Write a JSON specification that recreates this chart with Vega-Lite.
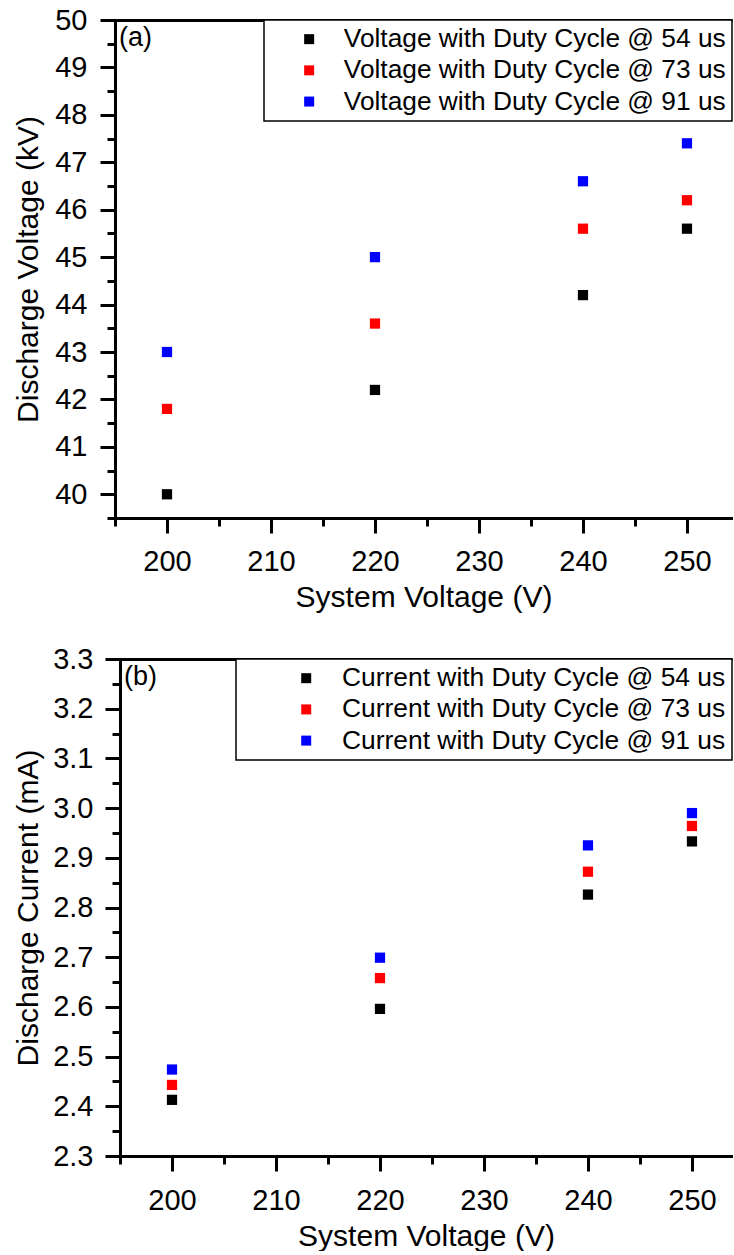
{
  "$schema": "https://vega.github.io/schema/vega-lite/v6.json",
  "padding": {"left": 13, "top": 6, "right": 0, "bottom": 0},
  "background": "white",
  "config": {
    "view": {"stroke": null},
    "font": "Liberation Sans",
    "legend": {"strokeWidth": 1.5},
    "axis": {
      "domainColor": "black", "domainWidth": 3, "domainCap": "square",
      "tickColor": "black", "tickWidth": 3, "tickCap": "butt",
      "labelColor": "black", "labelFont": "Liberation Sans", "labelFontSize": 29,
      "titleFont": "Liberation Sans", "titleFontSize": 30, "titleFontWeight": "normal", "titleColor": "black",
      "grid": false, "labelFlush": false, "labelOverlap": false, "labelBound": false
    }
  },
  "columns": 1,
  "align": "none",
  "spacing": 33,
  "resolve": {"scale": {"color": "independent"}, "legend": {"color": "independent"}},
  "concat": [
    {
      "width": 617,
      "height": 498,
      "data": {"values": [
        {"sys": 200, "value": 40.0, "series": "Voltage with Duty Cycle @ 54 us"},
        {"sys": 220, "value": 42.2, "series": "Voltage with Duty Cycle @ 54 us"},
        {"sys": 240, "value": 44.2, "series": "Voltage with Duty Cycle @ 54 us"},
        {"sys": 250, "value": 45.6, "series": "Voltage with Duty Cycle @ 54 us"},
        {"sys": 200, "value": 41.8, "series": "Voltage with Duty Cycle @ 73 us"},
        {"sys": 220, "value": 43.6, "series": "Voltage with Duty Cycle @ 73 us"},
        {"sys": 240, "value": 45.6, "series": "Voltage with Duty Cycle @ 73 us"},
        {"sys": 250, "value": 46.2, "series": "Voltage with Duty Cycle @ 73 us"},
        {"sys": 200, "value": 43.0, "series": "Voltage with Duty Cycle @ 91 us"},
        {"sys": 220, "value": 45.0, "series": "Voltage with Duty Cycle @ 91 us"},
        {"sys": 240, "value": 46.6, "series": "Voltage with Duty Cycle @ 91 us"},
        {"sys": 250, "value": 47.4, "series": "Voltage with Duty Cycle @ 91 us"}
      ]},
      "layer": [
        {
          "mark": {"type": "point", "opacity": 0},
          "encoding": {
            "x": {"field": "sys", "type": "quantitative", "scale": {"domain": [195, 254.33], "nice": false, "zero": false},
                  "axis": {"orient": "bottom", "values": [195, 205, 215, 225, 235, 245], "tickSize": 8, "labels": false, "domain": false, "title": null}},
            "y": {"field": "value", "type": "quantitative", "scale": {"domain": [39.5, 50], "nice": false, "zero": false},
                  "axis": {"orient": "left", "values": [39.5, 40.5, 41.5, 42.5, 43.5, 44.5, 45.5, 46.5, 47.5, 48.5, 49.5], "tickSize": 8, "labels": false, "domain": false, "title": null}}
          }
        },
        {
          "mark": {"type": "point", "opacity": 0},
          "encoding": {
            "x": {"field": "sys", "type": "quantitative",
                  "axis": {"orient": "top", "ticks": false, "labels": false, "title": null, "domainCap": "butt"}},
            "y": {"field": "value", "type": "quantitative", "axis": null}
          }
        },
        {
          "mark": {"type": "point", "shape": "square", "filled": true, "size": 105, "opacity": 1},
          "encoding": {
            "x": {"field": "sys", "type": "quantitative",
                  "axis": {"orient": "bottom", "values": [200, 210, 220, 230, 240, 250], "format": "d", "tickSize": 15, "labelPadding": 14, "titlePadding": 6, "title": "System Voltage (V)"}},
            "y": {"field": "value", "type": "quantitative",
                  "axis": {"orient": "left", "values": [40, 41, 42, 43, 44, 45, 46, 47, 48, 49, 50], "format": "d", "tickSize": 15, "labelPadding": 13, "titlePadding": 11, "title": "Discharge Voltage (kV)"}},
            "color": {"field": "series", "type": "nominal",
              "scale": {"domain": ["Voltage with Duty Cycle @ 54 us", "Voltage with Duty Cycle @ 73 us", "Voltage with Duty Cycle @ 91 us"], "range": ["#000000", "#ff0000", "#0000ff"]},
              "legend": {"title": " ", "titleOrient": "left", "titleFontSize": 1, "titlePadding": 26,
                "orient": "top-right", "offset": 0, "padding": 6, "strokeColor": "black", "fillColor": "white",
                "labelFont": "Liberation Sans", "labelFontSize": 26.3, "labelColor": "black", "labelOffset": 21.5, "labelLimit": 1000,
                "symbolType": "square", "symbolSize": 100, "symbolStrokeWidth": 0, "rowPadding": 4.2}}
          }
        },
        {
          "data": {"values": [{"label": "(a)"}]},
          "mark": {"type": "text", "align": "left", "baseline": "top", "dx": 4, "dy": 5, "fontSize": 27, "font": "Liberation Sans", "color": "black"},
          "encoding": {
            "x": {"datum": 195, "type": "quantitative", "axis": null},
            "y": {"datum": 50, "type": "quantitative", "axis": null},
            "text": {"field": "label"}
          }
        }
      ],
      "resolve": {"axis": {"x": "independent", "y": "independent"}}
    },
    {
      "width": 617,
      "height": 497,
      "data": {"values": [
        {"sys": 200, "value": 2.413, "series": "Current with Duty Cycle @ 54 us"},
        {"sys": 220, "value": 2.596, "series": "Current with Duty Cycle @ 54 us"},
        {"sys": 240, "value": 2.826, "series": "Current with Duty Cycle @ 54 us"},
        {"sys": 250, "value": 2.933, "series": "Current with Duty Cycle @ 54 us"},
        {"sys": 200, "value": 2.443, "series": "Current with Duty Cycle @ 73 us"},
        {"sys": 220, "value": 2.658, "series": "Current with Duty Cycle @ 73 us"},
        {"sys": 240, "value": 2.872, "series": "Current with Duty Cycle @ 73 us"},
        {"sys": 250, "value": 2.964, "series": "Current with Duty Cycle @ 73 us"},
        {"sys": 200, "value": 2.474, "series": "Current with Duty Cycle @ 91 us"},
        {"sys": 220, "value": 2.699, "series": "Current with Duty Cycle @ 91 us"},
        {"sys": 240, "value": 2.925, "series": "Current with Duty Cycle @ 91 us"},
        {"sys": 250, "value": 2.990, "series": "Current with Duty Cycle @ 91 us"}
      ]},
      "layer": [
        {
          "mark": {"type": "point", "opacity": 0},
          "encoding": {
            "x": {"field": "sys", "type": "quantitative", "scale": {"domain": [195, 253.85], "range": [5, 617], "nice": false, "zero": false},
                  "axis": {"orient": "bottom", "values": [195, 205, 215, 225, 235, 245], "tickSize": 8, "labels": false, "domain": false, "title": null}},
            "y": {"field": "value", "type": "quantitative", "scale": {"domain": [2.3, 3.3], "nice": false, "zero": false},
                  "axis": {"orient": "left", "offset": -5, "values": [2.35, 2.45, 2.55, 2.65, 2.75, 2.85, 2.95, 3.05, 3.15, 3.25], "tickSize": 8, "labels": false, "domain": false, "title": null}}
          }
        },
        {
          "mark": {"type": "point", "opacity": 0},
          "encoding": {
            "x": {"field": "sys", "type": "quantitative",
                  "axis": {"orient": "top", "ticks": false, "labels": false, "title": null, "domainCap": "butt"}},
            "y": {"field": "value", "type": "quantitative", "axis": null}
          }
        },
        {
          "mark": {"type": "point", "shape": "square", "filled": true, "size": 105, "opacity": 1},
          "encoding": {
            "x": {"field": "sys", "type": "quantitative",
                  "axis": {"orient": "bottom", "values": [200, 210, 220, 230, 240, 250], "format": "d", "tickSize": 15, "labelPadding": 15, "titlePadding": 6, "title": "System Voltage (V)"}},
            "y": {"field": "value", "type": "quantitative",
                  "axis": {"orient": "left", "offset": -5, "values": [2.3, 2.4, 2.5, 2.6, 2.7, 2.8, 2.9, 3.0, 3.1, 3.2, 3.3], "format": ".1f", "tickSize": 15, "labelPadding": 12, "titlePadding": 9, "title": "Discharge Current (mA)"}},
            "color": {"field": "series", "type": "nominal",
              "scale": {"domain": ["Current with Duty Cycle @ 54 us", "Current with Duty Cycle @ 73 us", "Current with Duty Cycle @ 91 us"], "range": ["#000000", "#ff0000", "#0000ff"]},
              "legend": {"title": " ", "titleOrient": "left", "titleFontSize": 1, "titlePadding": 51, "orient": "top-right", "offset": 0, "padding": 6, "strokeColor": "black", "fillColor": "white",
                "labelFont": "Liberation Sans", "labelFontSize": 26.4, "labelColor": "black", "labelOffset": 22.6, "labelLimit": 1000,
                "symbolType": "square", "symbolSize": 100, "symbolStrokeWidth": 0, "rowPadding": 4.2}}
          }
        },
        {
          "data": {"values": [{"label": "(b)"}]},
          "mark": {"type": "text", "align": "left", "baseline": "top", "dx": 4, "dy": 5, "fontSize": 27, "font": "Liberation Sans", "color": "black"},
          "encoding": {
            "x": {"datum": 195, "type": "quantitative", "axis": null},
            "y": {"datum": 3.3, "type": "quantitative", "axis": null},
            "text": {"field": "label"}
          }
        }
      ],
      "resolve": {"axis": {"x": "independent", "y": "independent"}}
    }
  ]
}
